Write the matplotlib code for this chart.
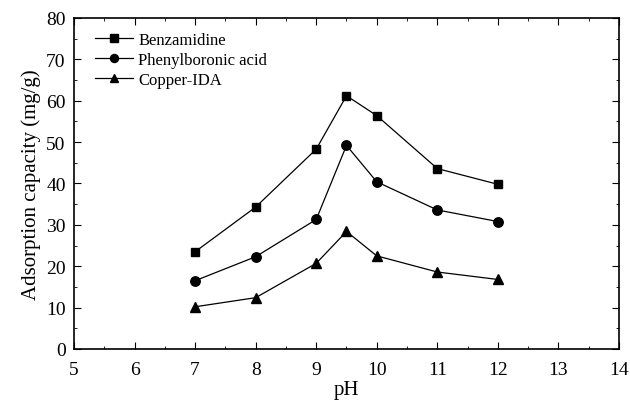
import matplotlib
matplotlib.use("Agg")
import matplotlib.pyplot as plt
from matplotlib.ticker import MultipleLocator

ph = [7, 8, 9, 9.5, 10, 11, 12]
benzamidine = [23.5, 34.3, 48.3, 61.2, 56.4, 43.6, 39.8]
phenylboronic = [16.5, 22.3, 31.3, 49.2, 40.4, 33.6, 30.8]
copper_ida = [10.2, 12.4, 20.7, 28.4, 22.5, 18.6, 16.8]

plt.rcParams['font.family'] = ['Liberation Serif', 'DejaVu Serif']

fig = plt.figure(figsize=(6.3, 4.02), dpi=100)
ax = fig.add_axes([0.1175, 0.1294, 0.865, 0.8234])

ax.plot(ph, benzamidine, 'k-', marker='s', markersize=6, lw=0.9, label='Benzamidine')
ax.plot(ph, phenylboronic, 'k-', marker='o', markersize=6.8, lw=0.9, label='Phenylboronic acid')
ax.plot(ph, copper_ida, 'k-', marker='^', markersize=7.5, lw=0.9, label='Copper-IDA')

ax.set_xlim(5, 14)
ax.set_ylim(0, 80)
ax.xaxis.set_major_locator(MultipleLocator(1))
ax.xaxis.set_minor_locator(MultipleLocator(0.5))
ax.yaxis.set_major_locator(MultipleLocator(10))
ax.yaxis.set_minor_locator(MultipleLocator(5))
ax.tick_params(which='both', direction='in', top=True, right=True, labelsize=14)
ax.tick_params(which='major', length=5)
ax.tick_params(which='minor', length=2.5)
ax.tick_params(axis='x', which='major', pad=9)
ax.tick_params(axis='y', which='major', pad=6)
for s in ax.spines.values():
    s.set_linewidth(1.2)

ax.set_xlabel('pH', fontsize=15, labelpad=1)
ax.set_ylabel('Adsorption capacity (mg/g)', fontsize=15, labelpad=4)

ax.legend(loc='upper left', bbox_to_anchor=(0.026, 0.979), borderaxespad=0,
          frameon=False, fontsize=12, handlelength=2.3, handletextpad=0.3,
          labelspacing=0.25, markerscale=0.85)

fig.savefig('out.png', dpi=100)
